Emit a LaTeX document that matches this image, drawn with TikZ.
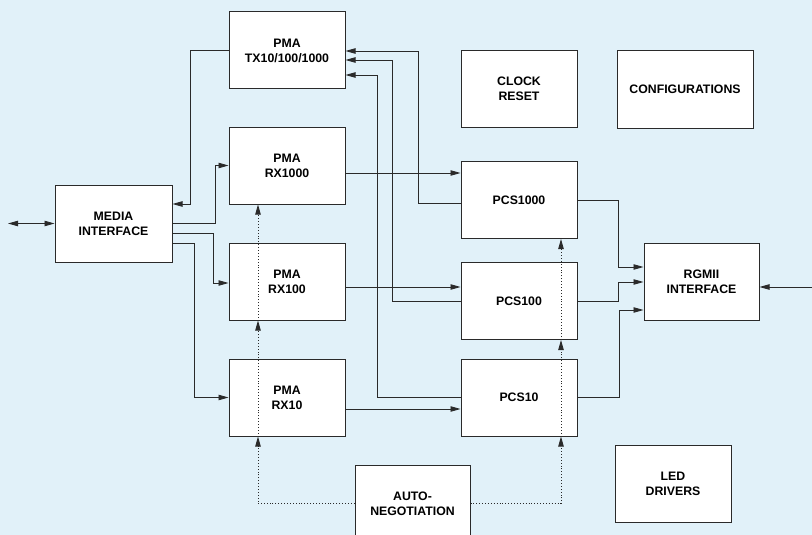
\documentclass[tikz,border=0pt]{standalone}
\usepackage{fontspec}
\setmainfont{Liberation Sans}
\usetikzlibrary{arrows.meta,positioning,calc}
\definecolor{diag-bg}{HTML}{E1F1F9}
\definecolor{diag-ink}{HTML}{2A2A2A}
\begin{document}
\begin{tikzpicture}[
    x=1pt, y=-1pt,
    font=\fontsize{12.3}{15}\selectfont\bfseries,
    >={Triangle[length=10pt,width=5.4pt]},
    block/.style={draw=diag-ink, fill=white, line width=1pt, align=center, inner sep=0pt, minimum width=116pt, minimum height=77pt},
    link/.style={->, draw=diag-ink, line width=0.9pt},
    neg/.style={->, draw=diag-ink, line width=0.9pt, dotted}
]
\useasboundingbox (0,0) rectangle (812,535);
\clip (0,0) rectangle (812,535);
\fill[diag-bg] (0,0) rectangle (812,535);

% blocks
\node[block] (pmatx) at (287,50.5) {PMA\\TX10/100/1000};
\node[block] (pmarx1000) at (287,165.5) {PMA\\RX1000};
\node[block] (pmarx100) at (287,281.5) {PMA\\RX100};
\node[block] (pmarx10) at (287,397.5) {PMA\\RX10};
\node[block, minimum width=117pt] (media) at (113.5,223.5) {MEDIA\\INTERFACE};
\node[block, minimum width=115pt] (autoneg) at (412.5,503.5) {AUTO-\\NEGOTIATION};
\node[block] (clkrst) at (519,89) {CLOCK\\RESET};
\node[block, minimum width=136pt] (config) at (685,89.5) {CONFIGURATIONS};
\node[block] (pcs1000) at (519,200) {PCS1000};
\node[block] (pcs100) at (519,301) {PCS100};
\node[block] (pcs10) at (519,397.5) {PCS10};
\node[block, minimum width=115pt] (rgmii) at (701.5,281.5) {RGMII\\INTERFACE};
\node[block] (leddrv) at (673,484) {LED\\DRIVERS};

\coordinate (lineside) at (8,223.5);
\coordinate (macside) at (812,287);

% media interface
\draw[link, <->] (lineside) -- (media.west);
\draw[link] (pmatx.west) -- ++(-38,0) |- ([yshift=19.5pt]media.east);
\draw[link] (media.east) -- ++(43,0) |- (pmarx1000.west);
\draw[link] ([yshift=-9.5pt]media.east) -- ++(41,0) |- ([yshift=-1.5pt]pmarx100.west);
\draw[link] ([yshift=-19.5pt]media.east) -- ++(22,0) |- (pmarx10.west);

% pma to pcs
\draw[link] ([yshift=-7.5pt]pmarx1000.east) -- ([yshift=27pt]pcs1000.west);
\draw[link] ([yshift=-5.5pt]pmarx100.east) -- ([yshift=14pt]pcs100.west);
\draw[link] ([yshift=-11.5pt]pmarx10.east) -- ([yshift=-11.5pt]pcs10.west);

% pcs to pma tx
\draw[link] ([yshift=-3pt]pcs1000.west) -- ++(-42,0) |- ([yshift=-0.5pt]pmatx.east);
\draw[link] (pcs100.west) -- ++(-68,0) |- ([yshift=-9.5pt]pmatx.east);
\draw[link] (pcs10.west) -- ++(-83,0) |- ([yshift=-24.5pt]pmatx.east);

% pcs to rgmii
\draw[link] (pcs1000.east) -- ++(41,0) |- ([yshift=14.5pt]rgmii.west);
\draw[link] (pcs100.east) -- ++(41,0) |- ([yshift=-0.5pt]rgmii.west);
\draw[link] (pcs10.east) -- ++(42,0) |- ([yshift=-28.5pt]rgmii.west);
\draw[link] (macside) -- ([yshift=-5.5pt]rgmii.east);

% auto-negotiation
\draw[neg] (autoneg.west) -| ([xshift=-29pt]pmarx10.south);
\draw[neg] ([xshift=-29pt]pmarx10.south) -- ([xshift=-29pt]pmarx100.south);
\draw[neg] ([xshift=-29pt]pmarx100.south) -- ([xshift=-29pt]pmarx1000.south);
\draw[neg] (autoneg.east) -| ([xshift=42pt]pcs10.south);
\draw[neg] ([xshift=42pt]pcs10.south) -- ([xshift=42pt]pcs100.south);
\draw[neg] ([xshift=42pt]pcs100.south) -- ([xshift=42pt]pcs1000.south);
\end{tikzpicture}
\end{document}
